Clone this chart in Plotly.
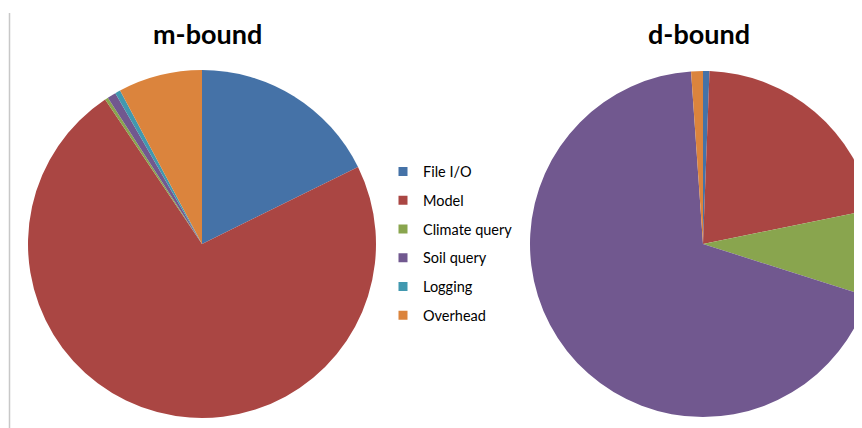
import plotly.graph_objects as go

categories = ["File I/O", "Model", "Climate query", "Soil query", "Logging", "Overhead"]
m_bound = [17.7, 72.9, 0.3, 0.8, 0.5, 7.8]
d_bound = [0.6, 21.2, 8.1, 69.0, 0.0, 1.1]
colors = ["#4572A7", "#AA4643", "#89A54E", "#71588F", "#4198AF", "#DB843D"]
titles = ["m-bound", "d-bound"]

# page body has an 8px margin; positions below are in page pixels
OFF = 8
W, H = 880, 428

def px_x(v):
    return (v - OFF) / W

def px_y(v):
    return 1 - (v - OFF) / H

fig = go.Figure()

fig.add_trace(go.Pie(
    labels=categories, values=m_bound, sort=False, direction="clockwise", rotation=0,
    marker=dict(colors=colors, line=dict(width=0)), textinfo="none", hoverinfo="label+percent",
    showlegend=False,
    domain=dict(x=[px_x(28), px_x(376)], y=[px_y(418), px_y(70)]),
))
fig.add_trace(go.Pie(
    labels=categories, values=d_bound, sort=False, direction="clockwise", rotation=0,
    marker=dict(colors=colors, line=dict(width=0)), textinfo="none", hoverinfo="label+percent",
    showlegend=False,
    domain=dict(x=[px_x(530), px_x(876)], y=[px_y(417), px_y(71)]),
))

for name, col in zip(categories, colors):
    fig.add_trace(go.Scatter(
        x=[None], y=[None], mode="markers", name=name,
        marker=dict(symbol="square", size=9, color=col),
        legendgroup=name, showlegend=True,
    ))

for t, cx in zip(titles, [207.5, 699]):
    fig.add_annotation(text="<b>%s</b>" % t, x=px_x(cx), y=px_y(34), xref="paper", yref="paper",
                       showarrow=False, xanchor="center", yanchor="middle",
                       font=dict(family="Lato", size=27, color="#000000"))

fig.add_shape(type="line", xref="paper", yref="paper", x0=px_x(9.5), x1=px_x(9.5),
              y0=0, y1=px_y(13), line=dict(color="#C8C8C8", width=1.5))

fig.update_layout(
    width=W, height=H, autosize=False,
    margin=dict(l=0, r=0, t=0, b=0),
    paper_bgcolor="white", plot_bgcolor="white",
    xaxis=dict(visible=False), yaxis=dict(visible=False),
    legend=dict(x=px_x(383), y=px_y(155.5), xanchor="left", yanchor="top",
                font=dict(family="Lato", size=14.5, color="#000000"),
                tracegroupgap=6.9, bgcolor="rgba(0,0,0,0)"),
)

fig.write_html("out.html")
